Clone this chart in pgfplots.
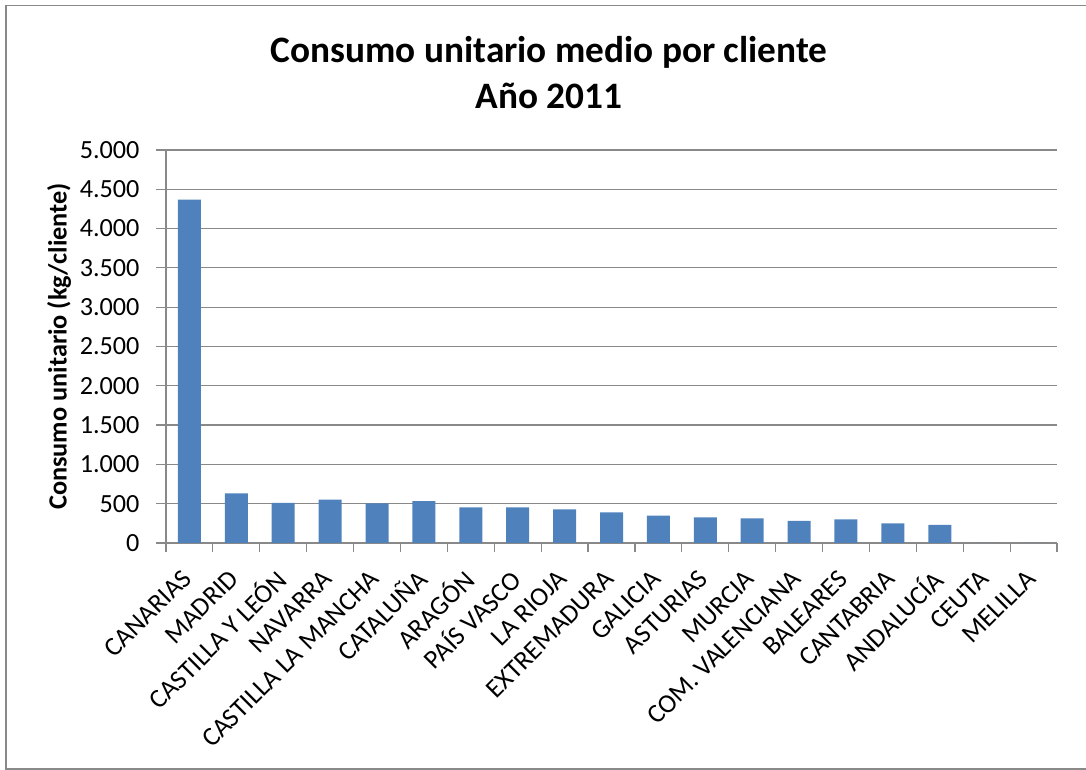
\documentclass[border=0pt]{standalone}
\usepackage{pgfplots}
\pgfplotsset{compat=1.18}
\usepackage{fontspec}
\setmainfont{Carlito}
\definecolor{barblue}{HTML}{4F81BD}
\definecolor{gridgray}{HTML}{898989}

\begin{document}
\begin{tikzpicture}[x=1bp,y=1bp]
\useasboundingbox (0,0) rectangle (1086,770);
\draw[gridgray, line width=1.5bp] (6,1) rectangle (1092,764.5);
% title, two lines
\node[font=\bfseries\fontsize{37.3bp}{44bp}\selectfont, anchor=base] at (549,707) {Consumo unitario medio por cliente};
\node[font=\bfseries\fontsize{37.3bp}{44bp}\selectfont, anchor=base] at (549,661) {Año 2011};
\begin{axis}[
  at={(166bp,227bp)}, anchor=south west,
  width=891bp, height=393bp, scale only axis,
  ymin=0, ymax=5000, ytick={0,500,...,5000},
  scaled y ticks=false,
  /pgf/number format/.cd, 1000 sep={.}, assume math mode=true, /pgfplots/.cd,
  xmin=-0.5, xmax=18.5,
  xtick={0,...,18},
  xticklabels={CANARIAS, MADRID, CASTILLA Y LEÓN, NAVARRA, CASTILLA LA MANCHA, CATALUÑA, ARAGÓN, PAÍS VASCO, LA RIOJA, EXTREMADURA, GALICIA, ASTURIAS, MURCIA, COM. VALENCIANA, BALEARES, CANTABRIA, ANDALUCÍA, CEUTA, MELILLA},
  minor xtick={-0.5,0.5,...,18.5},
  axis x line*=bottom, axis y line*=left,
  axis line style={gridgray, line width=1.2bp},
  tick align=outside,
  major tick length=10bp, minor tick length=9bp,
  major x tick style={draw=none},
  minor x tick style={gridgray, line width=1.2bp},
  major y tick style={gridgray, line width=1.2bp},
  ymajorgrids, major grid style={gridgray, line width=1.2bp},
  yticklabel style={font=\fontsize{26.2bp}{30bp}\selectfont, xshift=-13bp},
  xticklabel style={font=\fontsize{26.5bp}{30bp}\selectfont, yshift=-19bp, rotate=45, anchor=east},
  ylabel={Consumo unitario (kg/cliente)},
  ylabel style={font=\bfseries\fontsize{26.3bp}{30bp}\selectfont, at={(axis description cs:-0.120,0.5)}, anchor=center},
  ybar, bar width=23bp,
]
\addplot[fill=barblue, draw=none] coordinates {
(0,4370) (1,632) (2,509) (3,551) (4,505) (5,534) (6,454) (7,454) (8,429) (9,390)
(10,347) (11,327) (12,314) (13,280) (14,301) (15,250) (16,229) (17,0) (18,0)
};
\end{axis}
\end{tikzpicture}
\end{document}
